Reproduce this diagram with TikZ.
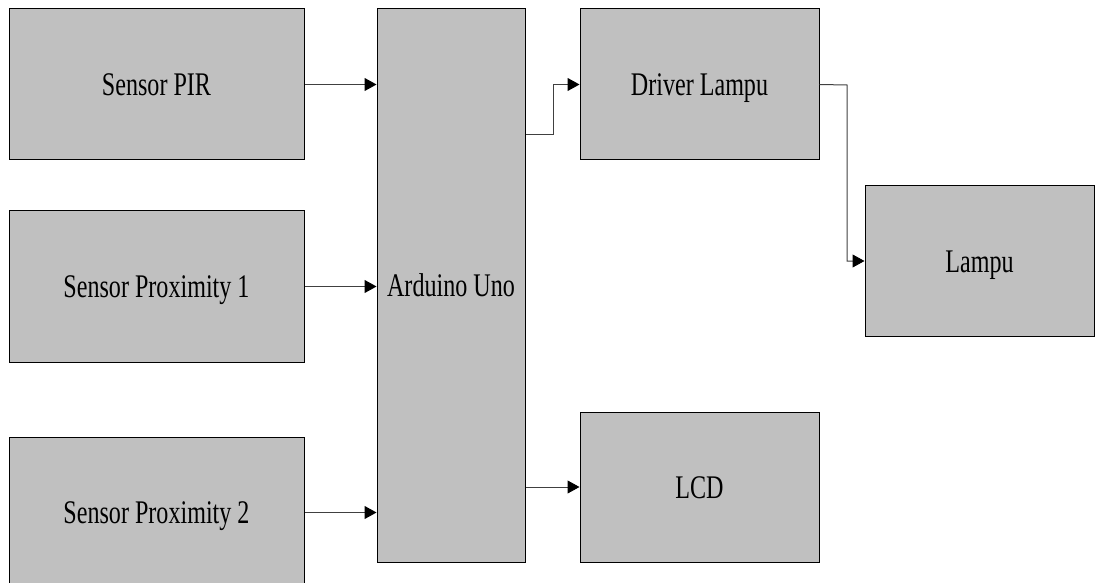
\documentclass[tikz,border=0pt]{standalone}
\usepackage{fontspec}
\setmainfont[FakeStretch=0.73]{Liberation Serif}
\usetikzlibrary{arrows.meta}
\definecolor{boxgray}{HTML}{C0C0C0}
\begin{document}
\begin{tikzpicture}[x=1pt,y=-1pt,
  box/.style={draw=black, line width=1pt, fill=boxgray, rectangle, inner sep=0pt,
    font=\fontsize{33}{40}\selectfont, text height=22pt, text depth=0pt},
  conn/.style={draw=black!75, line width=1pt, -{Triangle[length=12pt,width=13pt,color=black]}}]
\useasboundingbox (0,0) rectangle (1096,583);
\clip (0,0) rectangle (1096,583);
\node[box, minimum width=295pt, minimum height=151pt] (pir) at (156.5,84.5) {Sensor PIR};
\node[box, minimum width=295pt, minimum height=151pt] (prox1) at (156.5,286.5) {Sensor Proximity 1};
\node[box, minimum width=295pt, minimum height=151pt] (prox2) at (156.5,512.5) {Sensor Proximity 2};
\node[box, minimum width=148pt, minimum height=553pt] (ard) at (451,285.5) {Arduino Uno};
\node[box, minimum width=239pt, minimum height=151pt] (drv) at (699.5,84.5) {Driver Lampu};
\node[box, minimum width=229pt, minimum height=150pt] (lampu) at (979.5,261) {Lampu};
\node[box, minimum width=239pt, minimum height=150pt] (lcd) at (699.5,487) {LCD};
\coordinate (j1) at (553,135);
\coordinate (j2) at (847,85);
\draw[conn] (pir.east) -- (pir.east -| ard.west);
\draw[conn] (prox1.east) -- (prox1.east -| ard.west);
\draw[conn] (prox2.east) -- (prox2.east -| ard.west);
\draw[conn] (ard.east |- j1) -- (j1) |- (drv.west);
\draw[conn] (drv.east) -- (j2) |- (lampu.west);
\draw[conn] (ard.east |- lcd.west) -- (lcd.west);
\end{tikzpicture}
\end{document}
